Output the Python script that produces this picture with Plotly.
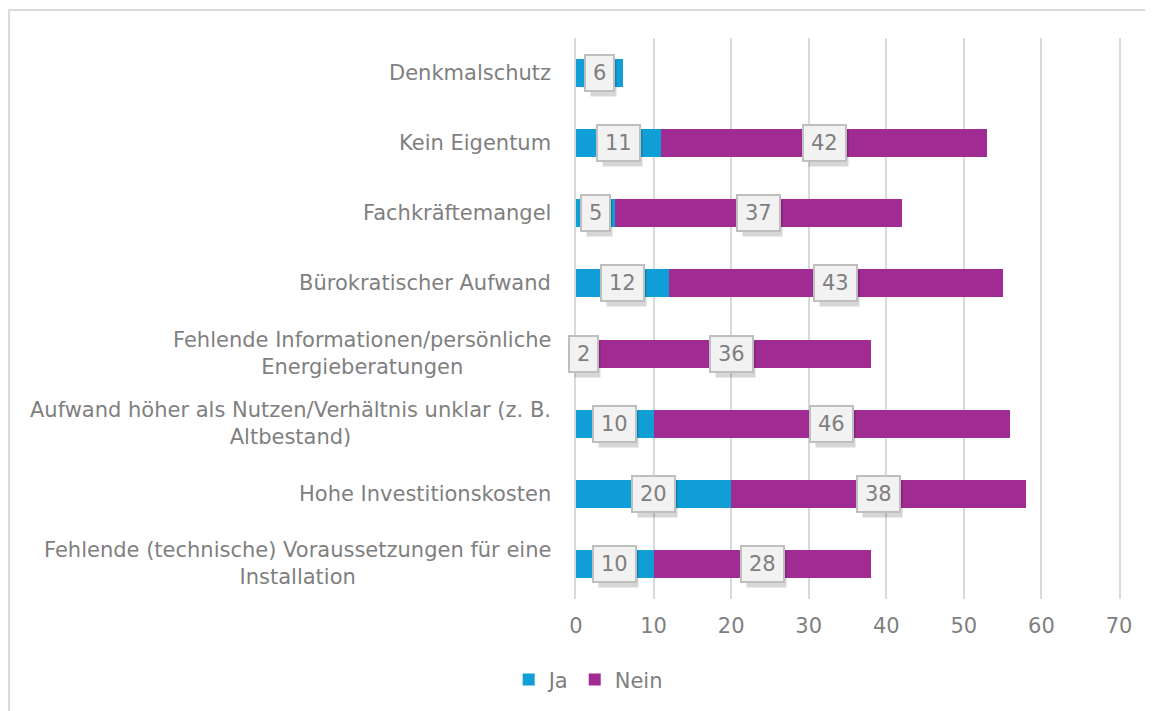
import plotly.graph_objects as go

categories = [
    "Denkmalschutz",
    "Kein Eigentum",
    "Fachkräftemangel",
    "Bürokratischer Aufwand",
    "Fehlende Informationen/persönliche<br>Energieberatungen",
    "Aufwand höher als Nutzen/Verhältnis unklar (z. B.<br>Altbestand)",
    "Hohe Investitionskosten",
    "Fehlende (technische) Voraussetzungen für eine<br>Installation",
]
ja = [6, 11, 5, 12, 2, 10, 20, 10]
nein = [0, 42, 37, 43, 36, 46, 38, 28]
x_ticks = [0, 10, 20, 30, 40, 50, 60, 70]

FONT = "DejaVu Sans"
GRAY = "#7f7f7f"
C_JA = "#0F9ED5"
C_NEIN = "#A02B93"
GRID = "#d9d9d9"

fig = go.Figure()
fig.add_trace(go.Bar(y=categories, x=ja, name="Ja", orientation="h",
                     marker=dict(color=C_JA, line=dict(width=0))))
fig.add_trace(go.Bar(y=categories, x=nein, name="Nein", orientation="h",
                     marker=dict(color=C_NEIN, line=dict(width=0))))

annotations = []
# data labels
for cat, a, b in zip(categories, ja, nein):
    for base, val in ((0, a), (a, b)):
        if not val:
            continue
        txt = str(val)
        w = len(txt) * 13.3 + 8
        xc = base + val / 2
        # shadow
        annotations.append(dict(x=xc, y=cat, xref="x", yref="y", text=" ",
                                showarrow=False, width=w + 4, height=36,
                                bgcolor="rgba(0,0,0,0.16)", borderpad=0,
                                xshift=4, yshift=-5, font=dict(size=21, family=FONT)))
        annotations.append(dict(x=xc, y=cat, xref="x", yref="y", text=txt,
                                showarrow=False, width=w, height=28,
                                bgcolor="#f2f2f2", bordercolor="#bfbfbf",
                                borderwidth=2, borderpad=3,
                                font=dict(size=21, family=FONT, color=GRAY)))
# category labels (centered multi-line, right anchored)
for cat in categories:
    annotations.append(dict(x=-0.042, y=cat, xref="paper", yref="y", text=cat,
                            showarrow=False, xanchor="right", align="center",
                            font=dict(size=21, family=FONT, color=GRAY)))

fig.update_layout(
    barmode="stack",
    bargap=0.6,
    width=1145, height=703,
    margin=dict(l=568, r=34, t=30, b=111),
    paper_bgcolor="white", plot_bgcolor="white",
    font=dict(family=FONT, size=21, color=GRAY),
    xaxis=dict(range=[0, 70], tickvals=x_ticks, showgrid=True,
               gridcolor=GRID, gridwidth=1.5, zeroline=False,
               showline=False, ticks="", ticklabelstandoff=12,
               tickfont=dict(size=21, family=FONT, color=GRAY)),
    yaxis=dict(autorange="reversed", showticklabels=False, showgrid=False,
               zeroline=False, showline=True, mirror=True, linecolor=GRID,
               linewidth=1.5, ticks=""),
    legend=dict(orientation="h", x=-0.124, xanchor="left", y=-0.142,
                yanchor="middle", font=dict(size=21, family=FONT, color=GRAY),
                itemwidth=30, traceorder="normal"),
    annotations=annotations,
    shapes=[
        dict(type="rect", xref="paper", yref="paper", x0=-1.044, x1=1.25,
             y0=1.05, y1=-0.35, line=dict(color=GRID, width=2),
             fillcolor="rgba(0,0,0,0)", layer="below"),
    ],
)

fig.write_html("out.html")
